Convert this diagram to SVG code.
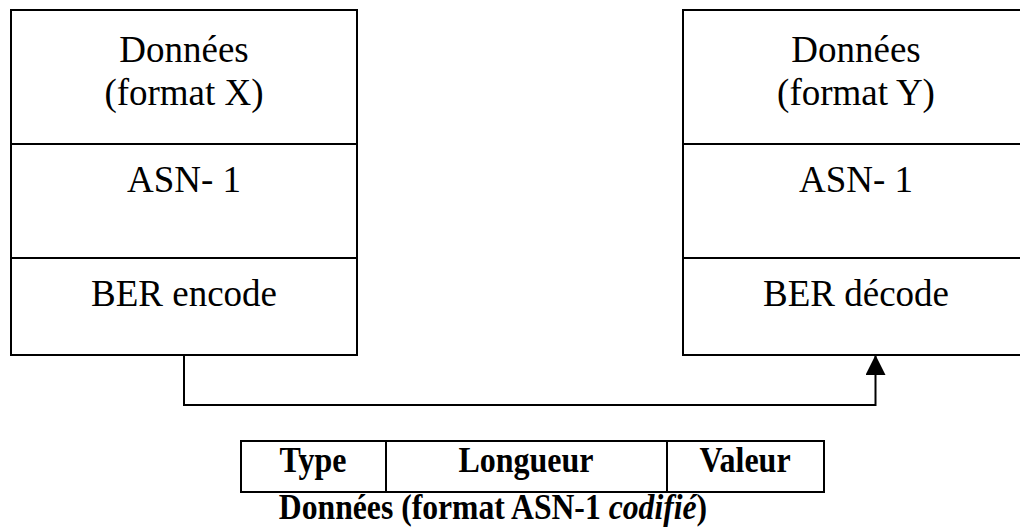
<svg xmlns="http://www.w3.org/2000/svg" width="1020" height="528" viewBox="0 0 1020 528">
  <style>
    .frame { fill: #fff; stroke: #000; stroke-width: 2; }
    .rule { stroke: #000; stroke-width: 2; fill: none; }
    .label { font-family: "Liberation Serif", "Times New Roman", serif; font-size: 37px; fill: #000; text-anchor: middle; }
    .field { font-family: "Liberation Serif", "Times New Roman", serif; font-size: 32px; font-weight: bold; fill: #000; text-anchor: middle; }
    .wire { stroke: #000; stroke-width: 2; fill: none; }
  </style>
  <defs>
    <marker id="arrow" viewBox="0 0 20 20" refX="20" refY="10" markerWidth="20" markerHeight="20" markerUnits="userSpaceOnUse" orient="auto">
      <path d="M0,0 L20,10 L0,20 Z" fill="#000"/>
    </marker>
  </defs>

  <!-- sender stack -->
  <g id="sender">
    <rect class="frame" x="11" y="10" width="346" height="345"/>
    <line class="rule" x1="11" y1="144" x2="357" y2="144"/>
    <line class="rule" x1="11" y1="258" x2="357" y2="258"/>
    <text class="label" x="184" y="62">Données</text>
    <text class="label" x="184" y="105">(format X)</text>
    <text class="label" x="184" y="192">ASN- 1</text>
    <text class="label" x="184" y="306">BER encode</text>
  </g>

  <!-- receiver stack (runs past the right edge) -->
  <g id="receiver">
    <rect class="frame" x="683" y="10" width="346" height="345"/>
    <line class="rule" x1="683" y1="144" x2="1029" y2="144"/>
    <line class="rule" x1="683" y1="258" x2="1029" y2="258"/>
    <text class="label" x="856" y="62">Données</text>
    <text class="label" x="856" y="105">(format Y)</text>
    <text class="label" x="856" y="192">ASN- 1</text>
    <text class="label" x="856" y="306">BER décode</text>
  </g>

  <!-- transfer link -->
  <g id="connectors">
    <path class="wire" d="M184,355 V405 H875.5 V355" marker-end="url(#arrow)"/>
  </g>

  <!-- TLV encoding, bold labels drawn slightly tall -->
  <g id="tlv">
    <rect class="frame" x="241" y="441" width="583" height="51"/>
    <line class="rule" x1="386" y1="441" x2="386" y2="492"/>
    <line class="rule" x1="667" y1="441" x2="667" y2="492"/>
    <text class="field" transform="translate(313 472) scale(1 1.15)">Type</text>
    <text class="field" transform="translate(526 472) scale(1 1.15)">Longueur</text>
    <text class="field" transform="translate(745 472) scale(1 1.15)">Valeur</text>
    <text class="field" transform="translate(493 519) scale(0.99 1.1)">Données (format ASN-1 <tspan font-style="italic">codifié</tspan>)</text>
  </g>
</svg>
